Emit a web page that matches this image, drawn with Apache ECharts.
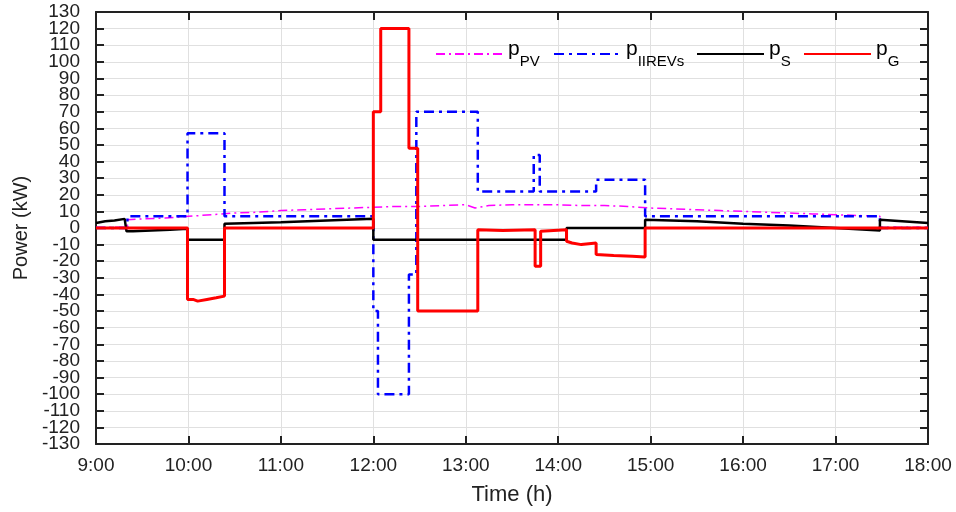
<!DOCTYPE html>
<html>
<head>
    <meta http-equiv="Content-Type" content="text/html; charset=utf-8" />
    <title>Power</title>
    <script src="https://cdn.jsdelivr.net/npm/echarts@6/dist/echarts.min.js"></script>
</head>
<body style="margin:0;padding:0;background:#fff;">
    <div id="main" style="width:956px;height:512px;"></div>
    <script type="text/javascript">
        /*************************************************************
        * data (time in hours, power in kW)
        *************************************************************/
        var timeTicks = ['9:00', '10:00', '11:00', '12:00', '13:00', '14:00', '15:00', '16:00', '17:00', '18:00'];

        var pvTime  = [9.0, 9.34, 9.34, 9.5, 9.75, 10.0, 10.25, 10.5, 10.75, 11.0, 11.25, 11.5, 11.75, 12.0, 12.25, 12.5, 12.75,
                       13.0, 13.1, 13.25, 13.5, 13.75, 14.0, 14.25, 14.5, 14.75, 15.0, 15.25, 15.5, 15.75, 16.0, 16.25, 16.5, 16.75,
                       17.0, 17.25, 17.48, 17.48, 18.0];
        var pvPower = [0.5, 0.5, 5, 5.5, 6, 7, 8, 9, 9.5, 10.5, 11, 11.5, 12, 12.5, 13, 13, 13.5,
                       14, 12, 13.5, 14, 14, 14, 13.5, 13.5, 13, 12, 11.5, 11, 10.5, 10, 9.5, 9, 8.5,
                       8, 7.5, 7, 0.5, 0.5];

        var evTime  = [9.0, 9.34, 9.34, 9.99, 9.99, 10.39, 10.39, 12.0, 12.0, 12.05, 12.05, 12.385, 12.385, 12.465, 12.465,
                       13.13, 13.13, 13.735, 13.735, 13.8, 13.8, 14.41, 14.41, 14.94, 14.94, 17.48, 17.48, 18.0];
        var evPower = [0, 0, 7, 7, 57, 57, 7, 7, -50, -50, -100, -100, -28, -28, 70,
                       70, 22, 22, 44, 44, 22, 22, 29, 29, 7, 7, 0, 0];

        var sTime  = [9.0, 9.1, 9.2, 9.31, 9.33, 9.4, 9.6, 9.8, 9.99, 9.99, 10.39, 10.39, 10.7, 11.0, 11.5, 12.0, 12.0,
                      14.09, 14.09, 14.94, 14.94, 15.5, 16.0, 16.5, 17.0, 17.48, 17.48, 18.0];
        var sPower = [3, 4, 4.5, 5.5, -2, -2, -1.5, -1, -0.5, -7, -7, 2.5, 3, 3.5, 4.5, 5.5, -7,
                      -7, 0, 0, 5, 4, 2.5, 1.5, 0, -1.5, 5, 3];

        var gTime  = [9.0, 9.99, 9.99, 10.05, 10.1, 10.2, 10.3, 10.39, 10.39, 12.0, 12.0, 12.08, 12.08, 12.385, 12.385,
                      12.48, 12.48, 13.13, 13.13, 13.4, 13.75, 13.75, 13.81, 13.81, 13.95, 14.09, 14.09, 14.15, 14.25,
                      14.41, 14.41, 14.6, 14.8, 14.94, 14.94, 18.0];
        var gPower = [0, 0, -43, -43, -44, -43, -42, -41, 0, 0, 70, 70, 120, 120, 48,
                      48, -50, -50, -1, -1.5, -1, -23, -23, -2, -1.5, -1, -8, -9, -10,
                      -9, -16, -16.5, -17, -17.5, 0, 0];

        var seriesNames = ['p_PV', 'p_IIREVs', 'p_S', 'p_G'];
        var seriesSubs  = ['PV', 'IIREVs', 'S', 'G'];

        // labels next to the end labels are drawn by a second left axis,
        // otherwise echarts drops them as overlapping
        var innerEndTicks = [-120, 120];

        /*************************************************************
        * helpers
        *************************************************************/
        function zip(t, v) {
            var out = [];
            for (var i = 0; i < t.length; i++) out.push([t[i], v[i]]);
            return out;
        }

        var FONT = 'Liberation Sans, Arial, sans-serif';
        var AXIS_COLOR = '#222222';

        function makeLegend(idx, left) {
            return {
                data: [seriesNames[idx]],
                left: left,
                top: 39,
                padding: 0,
                itemWidth: 67,
                itemHeight: 14,
                itemGap: 6,
                itemStyle: { opacity: 0 },
                formatter: function (name) {
                    return '{p|p}{s|' + seriesSubs[seriesNames.indexOf(name)] + '}';
                },
                textStyle: {
                    rich: {
                        p: { fontSize: 21, fontFamily: FONT, color: '#000', verticalAlign: 'bottom', padding: [0, 0, 9, 0] },
                        s: { fontSize: 15, fontFamily: FONT, color: '#000', verticalAlign: 'bottom' }
                    }
                }
            };
        }

        function line(idx, data, color, width, dash) {
            return {
                name: seriesNames[idx],
                type: 'line',
                data: data,
                symbol: 'none',
                showSymbol: false,
                lineStyle: { color: color, width: width, type: dash },
                itemStyle: { color: color },
                animation: false
            };
        }

        /*************************************************************
        * chart
        *************************************************************/
        var chart = echarts.init(document.getElementById('main'));
        var option = {
            backgroundColor: '#ffffff',
            animation: false,
            grid: { left: 96, right: 28, top: 12, bottom: 68, containLabel: false, outerBoundsMode: 'none' },
            legend: [
                makeLegend(0, 435),
                makeLegend(1, 553),
                makeLegend(2, 696),
                makeLegend(3, 803)
            ],
            xAxis: [
                {
                    type: 'value',
                    min: 9, max: 18, interval: 1,
                    name: 'Time (h)',
                    nameLocation: 'middle',
                    nameGap: 40,
                    nameTextStyle: { fontSize: 22, fontFamily: FONT, color: AXIS_COLOR },
                    axisLine: { show: true, onZero: false, lineStyle: { color: AXIS_COLOR, width: 2 } },
                    axisTick: { show: true, inside: true, length: 8, lineStyle: { color: AXIS_COLOR, width: 2 } },
                    axisLabel: {
                        fontSize: 19, fontFamily: FONT, color: AXIS_COLOR, margin: 12,
                        showMinLabel: true, showMaxLabel: true, hideOverlap: false,
                        formatter: function (v) { return timeTicks[Math.round(v - 9)]; }
                    },
                    splitLine: { show: true, lineStyle: { color: '#e0e0e0', width: 1 } }
                },
                {
                    type: 'value', position: 'top',
                    min: 9, max: 18, interval: 1,
                    axisLine: { show: true, onZero: false, lineStyle: { color: AXIS_COLOR, width: 2 } },
                    axisTick: { show: true, inside: true, length: 8, lineStyle: { color: AXIS_COLOR, width: 2 } },
                    axisLabel: { show: false },
                    splitLine: { show: false }
                }
            ],
            yAxis: [
                {
                    type: 'value',
                    min: -130, max: 130, interval: 10,
                    name: 'Power (kW)',
                    nameLocation: 'middle',
                    nameGap: 64,
                    nameTextStyle: { fontSize: 20, fontFamily: FONT, color: AXIS_COLOR },
                    axisLine: { show: true, onZero: false, lineStyle: { color: AXIS_COLOR, width: 2 } },
                    axisTick: { show: true, inside: true, length: 8, lineStyle: { color: AXIS_COLOR, width: 2 } },
                    axisLabel: {
                        fontSize: 19, fontFamily: FONT, color: AXIS_COLOR, margin: 16,
                        showMinLabel: true, showMaxLabel: true, hideOverlap: false,
                        formatter: function (v) { return innerEndTicks.indexOf(v) >= 0 ? '' : String(v); }
                    },
                    splitLine: { show: true, lineStyle: { color: '#e0e0e0', width: 1 } }
                },
                {
                    type: 'value', position: 'right',
                    min: -130, max: 130, interval: 10,
                    axisLine: { show: true, onZero: false, lineStyle: { color: AXIS_COLOR, width: 2 } },
                    axisTick: { show: true, inside: true, length: 8, lineStyle: { color: AXIS_COLOR, width: 2 } },
                    axisLabel: { show: false },
                    splitLine: { show: false }
                },
                {
                    type: 'value', position: 'left', offset: 0,
                    min: -130, max: 130, interval: 10,
                    axisLine: { show: false, onZero: false },
                    axisTick: { show: false },
                    axisLabel: {
                        fontSize: 19, fontFamily: FONT, color: AXIS_COLOR, margin: 16,
                        showMinLabel: true, showMaxLabel: true, hideOverlap: false,
                        formatter: function (v) { return innerEndTicks.indexOf(v) >= 0 ? String(v) : ''; }
                    },
                    splitLine: { show: false }
                }
            ],
            series: [
                line(0, zip(pvTime, pvPower), '#ff00ff', 1.5, [9, 4, 2, 4]),
                line(1, zip(evTime, evPower), '#0000ff', 2.5, [10, 5, 3, 5]),
                line(2, zip(sTime, sPower), '#000000', 2.5, 'solid'),
                line(3, zip(gTime, gPower), '#ff0000', 3, 'solid')
            ]
        };
        chart.setOption(option);
    </script>
</body>
</html>
